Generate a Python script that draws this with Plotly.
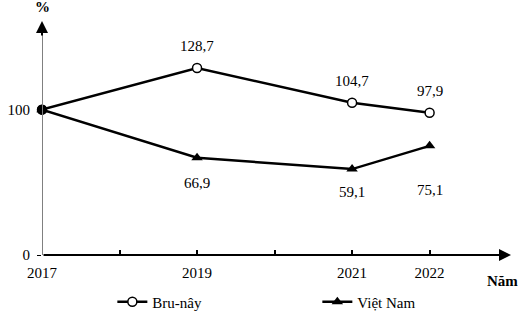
import plotly.graph_objects as go

years = [2017, 2019, 2021, 2022]
brunei = [100, 128.7, 104.7, 97.9]
vietnam = [100, 66.9, 59.1, 75.1]
tick_years = [2017, 2018, 2019, 2020, 2021, 2022]
tick_text = ["2017", "", "2019", "", "2021", "2022"]

FONT = "Liberation Serif"
FS = 15

fig = go.Figure()
fig.add_trace(go.Scatter(
    x=years, y=brunei, name="Bru-nây", mode="lines+markers",
    line=dict(color="black", width=2.5),
    marker=dict(symbol="circle", size=9, color="white",
                line=dict(color="black", width=1.5)),
    cliponaxis=False))
fig.add_trace(go.Scatter(
    x=years, y=vietnam, name="Việt Nam", mode="lines+markers",
    line=dict(color="black", width=2.5),
    marker=dict(symbol="triangle-up", size=10, color="black"),
    cliponaxis=False))
# common starting point drawn filled
fig.add_trace(go.Scatter(
    x=years[:1], y=brunei[:1], mode="markers", showlegend=False,
    marker=dict(symbol="circle", size=10, color="black"), cliponaxis=False))

fmt = lambda v: f"{v:.1f}".replace(".", ",")
for i, (x, v) in enumerate(zip(years, brunei)):
    if i == 0:
        continue
    fig.add_annotation(x=x, y=v, text=fmt(v), showarrow=False, yshift=22,
                       font=dict(family=FONT, size=FS, color="black"))
for i, (x, v) in enumerate(zip(years, vietnam)):
    if i == 0:
        continue
    fig.add_annotation(x=x, y=v, text=fmt(v), showarrow=False,
                       yshift=-[0, 25, 23, 44][i],
                       font=dict(family=FONT, size=FS, color="black"))

XMAX = 2023.05
# axes lines with arrows
fig.add_shape(type="line", x0=2017, x1=2017, y0=0, y1=158, xref="x", yref="y",
              line=dict(color="#808080", width=2))
fig.add_annotation(x=2017, y=161, ax=2017, ay=150, xref="x", yref="y", axref="x", ayref="y",
                   text="", showarrow=True, arrowhead=2, arrowsize=1.2, arrowwidth=2,
                   arrowcolor="black", standoff=0)
fig.add_annotation(x=XMAX, y=0, ax=2017, ay=0, xref="x", yref="y", axref="x", ayref="y",
                   text="", showarrow=True, arrowhead=2, arrowsize=1.2, arrowwidth=2,
                   arrowcolor="black", standoff=0)

fig.add_annotation(x=2017, y=161, yshift=14, text="<b>%</b>", showarrow=False,
                   xref="x", yref="y", font=dict(family=FONT, size=FS, color="black"))
fig.add_annotation(x=XMAX, y=0, yshift=-26, xshift=-9, text="<b>Năm</b>", showarrow=False,
                   xref="x", yref="y", font=dict(family=FONT, size=FS, color="black"))

fig.update_xaxes(range=[2017, XMAX], tickvals=tick_years, ticktext=tick_text,
                 ticks="inside", ticklen=5, tickwidth=1.5, tickcolor="black",
                 ticklabelstandoff=7,
                 showgrid=False, zeroline=False, showline=False,
                 tickfont=dict(family=FONT, size=FS, color="black"))
fig.update_yaxes(range=[0, 161], tickvals=[0, 100], ticks="outside", ticklen=4,
                 tickcolor="black", ticklabelstandoff=4,
                 showgrid=False, zeroline=False, showline=False,
                 tickfont=dict(family=FONT, size=FS, color="black"))

fig.update_layout(
    width=518, height=313,
    margin=dict(l=42, r=7, t=21, b=58, autoexpand=False),
    plot_bgcolor="white", paper_bgcolor="white",
    showlegend=True,
    legend=dict(orientation="h", x=0.15, y=-0.13, xanchor="left", yanchor="top",
                entrywidth=160, entrywidthmode="pixels",
                font=dict(family=FONT, size=FS, color="black")),
)
fig.write_html("out.html")
